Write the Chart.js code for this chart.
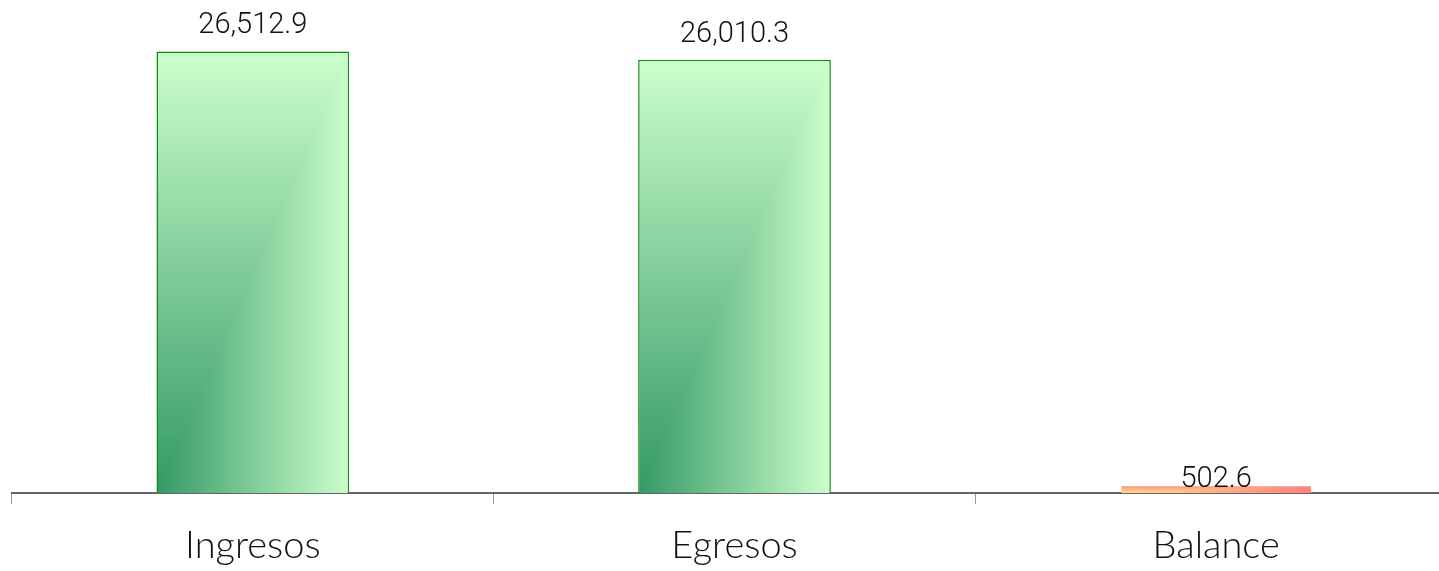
<!DOCTYPE html>
<html lang="es">
<head>
  <meta charset="UTF-8" />
  <title>Ingresos / Egresos / Balance</title>
  <script src="https://cdn.jsdelivr.net/npm/chart.js"></script>
  <style>
    html, body { margin: 0; padding: 0; background: #fff; overflow: hidden; }
    /* plot runs a little past the right edge of the window, as in the original */
    #wrap { width: 1457px; height: 571px; }
  </style>
</head>
<body>
<div id="wrap"><canvas id="chart"></canvas></div>
<script>
  // data
  const categories = ['Ingresos', 'Egresos', 'Balance'];
  const values = [26512.9, 26010.3, 502.6];
  const valueLabels = ['26,512.9', '26,010.3', '502.6'];
  // gradient colours per bar: [dark corner, light]
  const fills = [['#339966', '#ccffcc'], ['#339966', '#ccffcc'], ['#ffe08a', '#ff8080']];
  const borders = ['#108c10', '#108c10', 'rgba(0,0,0,0)'];

  const BAR_PCT = 0.4;

  // corner gradient: light wins between a vertical and a horizontal ramp
  function barFill(ctx) {
    const chart = ctx.chart;
    const sx = chart.scales.x, sy = chart.scales.y;
    if (!chart.chartArea || !sx || !sy) return fills[ctx.dataIndex][1];
    const i = ctx.dataIndex;
    const w = sx.width / categories.length * BAR_PCT;
    const cx = sx.getPixelForValue(i);
    const left = cx - w / 2, right = cx + w / 2;
    const top = sy.getPixelForValue(values[i]);
    const base = sy.getPixelForValue(0);
    const [dark, light] = fills[i];

    const off = document.createElement('canvas');
    off.width = chart.width; off.height = chart.height;
    const g = off.getContext('2d');
    const vg = g.createLinearGradient(0, base, 0, top);
    vg.addColorStop(0, dark); vg.addColorStop(1, light);
    g.fillStyle = vg;
    g.fillRect(left - 2, top - 2, w + 4, base - top + 4);
    g.save();
    g.beginPath();
    g.moveTo(left, base); g.lineTo(right, top); g.lineTo(right + 2, top - 2);
    g.lineTo(right + 2, base + 2); g.lineTo(left, base + 2);
    g.closePath(); g.clip();
    const hg = g.createLinearGradient(left, 0, right, 0);
    hg.addColorStop(0, dark); hg.addColorStop(1, light);
    g.fillStyle = hg;
    g.fillRect(left - 2, top - 2, w + 4, base - top + 4);
    g.restore();
    return chart.ctx.createPattern(off, 'no-repeat');
  }

  const valueLabelPlugin = {
    id: 'valueLabels',
    afterDatasetsDraw(chart) {
      const c = chart.ctx;
      const meta = chart.getDatasetMeta(0);
      c.save();
      c.font = '300 29px Roboto';
      c.fillStyle = '#111';
      c.textAlign = 'center';
      c.textBaseline = 'alphabetic';
      meta.data.forEach((bar, i) => {
        // short bars get the label sitting on the baseline
        const yb = (bar.base - bar.y < 30) ? bar.base - 6 : bar.y - 18;
        c.fillText(valueLabels[i], bar.x, yb);
      });
      c.restore();
    }
  };

  new Chart(document.getElementById('chart'), {
    type: 'bar',
    data: {
      labels: categories,
      datasets: [{
        data: values,
        backgroundColor: barFill,
        borderColor: borders,
        borderWidth: 1.5,
        categoryPercentage: 1,
        barPercentage: BAR_PCT
      }]
    },
    options: {
      responsive: true,
      maintainAspectRatio: false,
      animation: false,
      layout: { padding: { left: 12, right: 0, top: 0, bottom: 0 } },
      plugins: { legend: { display: false }, tooltip: { enabled: false } },
      scales: {
        x: {
          afterFit: (scale) => { scale.height = 78; },
          grid: { display: true, drawOnChartArea: false, tickLength: 11, color: '#999', offset: true },
          border: { display: true, color: '#666', width: 2 },
          ticks: { color: '#111', font: { family: 'Lato', size: 38, weight: 300, lineHeight: 1 }, padding: 23 }
        },
        y: { display: false, min: 0, max: 29600 }
      }
    },
    plugins: [valueLabelPlugin]
  });
</script>
</body>
</html>
